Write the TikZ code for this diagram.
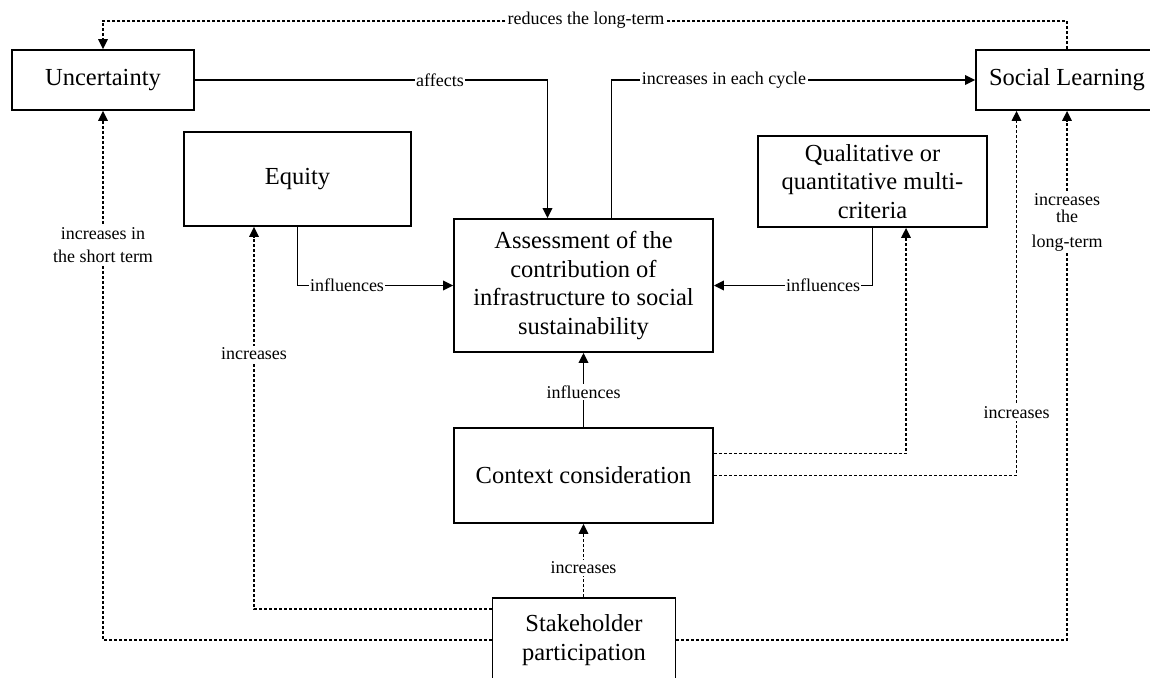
\documentclass[tikz,border=0pt]{standalone}
\usepackage{fontspec}
\setmainfont{Liberation Serif}
\usetikzlibrary{arrows.meta,calc}
\newcommand\boxfont{\fontsize{24.5}{28.5}\selectfont}
\newcommand\labfont{\fontsize{18}{22.5}\selectfont}
\tikzset{
  box/.style={draw, line width=1.8pt, align=center, font=\boxfont, inner sep=0pt},
  arr/.style={line width=1.8pt, -{Triangle[length=10pt,width=9.5pt]}},
  darr/.style={line width=1.6pt, dash pattern=on 3pt off 2pt, -{Triangle[length=10pt,width=9.5pt]}},
  lab/.style={fill=white, inner sep=1.5pt, font=\labfont, align=center}
}
\begin{document}
\begin{tikzpicture}[x=1pt, y=-1pt]
\useasboundingbox (0,0) rectangle (1150,677);
\clip (0,0) rectangle (1150,677);
% nodes
\node[box, minimum width=182pt, minimum height=60pt] (unc) at (103,80) {Uncertainty};
\node[box, minimum width=182pt, minimum height=60pt] (soc) at (1067,80) {Social Learning};
\node[box, minimum width=227pt, minimum height=94pt] (eq) at (297.5,179) {Equity};
\node[box, minimum width=229pt, minimum height=91pt] (qual) at (872.5,181.5) {Qualitative or\\quantitative multi-\\criteria};
\node[box, minimum width=259pt, minimum height=133pt] (ass) at (583.5,285.5) {Assessment of the\\contribution of\\infrastructure to social\\sustainability};
\node[box, minimum width=259pt, minimum height=95pt] (ctx) at (583.5,475.5) {Context consideration};
\node[box, minimum width=183pt, minimum height=84pt] (stk) at (584,640) {Stakeholder\\participation};
% connectors
\draw[arr] (unc.east) -| ([xshift=-36pt]ass.north);
\draw[arr] ([xshift=28pt]ass.north) |- (soc.west);
\draw[arr] (eq.south) |- (ass.west);
\draw[arr] (qual.south) |- (ass.east);
\draw[arr] (ctx.north) -- (ass.south);
\draw[darr] ([yshift=22pt]ctx.east) -| ([xshift=33.5pt]qual.south);
\draw[darr] (ctx.east) -| ([xshift=-50.5pt]soc.south);
\draw[darr] (ctx.south |- stk.north) -- (ctx.south);
\draw[darr] ([yshift=31pt]stk.west) -| ([xshift=-43.5pt]eq.south);
\draw[darr] (stk.west) -| (unc.south);
\draw[darr] (stk.east) -| (soc.south);
\draw[darr] (soc.north) -- ([yshift=28.3pt]soc.north) -| (unc.north);
% labels
\node[lab] (l1) at (440,80) {affects};
\node[lab] (l2) at (724,80) {increases in each cycle};
\node[lab] (l3) at (347,285.5) {influences};
\node[lab] (l4) at (823,285.5) {influences};
\node[lab] (l5) at (583.5,392) {influences};
\node[lab] (l6) at (1016.5,413) {increases};
\node[lab] (l7) at (583.5,568) {increases};
\node[lab] (l8) at (254,354) {increases};
\node[lab] (l9) at (103,245) {increases in\\the short term};
\node[lab] (l10) at (1067,222) {increases\\[-5pt]the\\[2pt]long-term};
\node[lab] (l11) at (586,20) {reduces the long-term};
\end{tikzpicture}
\end{document}
